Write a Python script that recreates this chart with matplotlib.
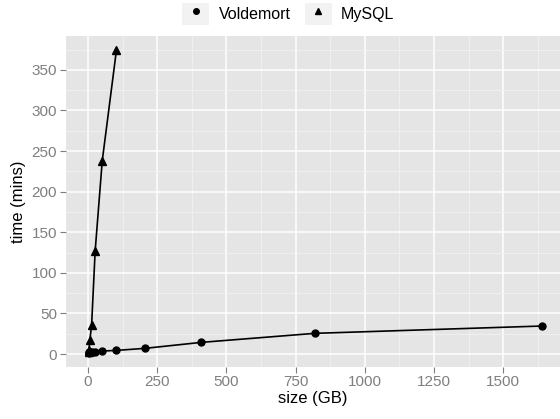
import matplotlib
matplotlib.use("Agg")
import matplotlib.pyplot as plt
from matplotlib.lines import Line2D
import matplotlib.patches as mpatches
from matplotlib.legend_handler import HandlerTuple
import numpy as np

plt.rcParams['font.family'] = ['Liberation Sans', 'DejaVu Sans']

# data
volde_size = [1.6, 3.2, 6.4, 12.8, 25.6, 51.2, 102.4, 204.8, 409.6, 819.2, 1638.4]
volde_time = [1.5, 2.0, 2.4, 2.8, 2.9, 3.7, 4.5, 7.0, 14.4, 25.5, 34.5]
mysql_size = [1.6, 3.2, 6.4, 12.8, 25.6, 51.2, 102.4]
mysql_time = [2.5, 5.5, 17.0, 36.0, 127.0, 238.0, 374.0]

grey_text = '#7f7f7f'

fig = plt.figure(figsize=(5.6, 4.19), dpi=100)
ax = fig.add_axes([0.117, 0.124, 0.883, 0.790])
ax.set_facecolor('#e5e5e5')

ax.plot(volde_size, volde_time, color='black', marker='o', markersize=5,
        linewidth=1.2, zorder=3)
ax.plot(mysql_size, mysql_time, color='black', marker='^', markersize=5.5,
        linewidth=1.2, zorder=3)

ax.set_xlim(-81.5, 1705)
ax.set_ylim(-16, 391.6)

ax.set_xticks(np.arange(0, 1501, 250))
ax.set_xticks(np.arange(125, 1705, 250), minor=True)
ax.set_yticks(np.arange(0, 351, 50))
ax.set_yticks(np.arange(25, 391, 50), minor=True)

ax.grid(True, which='major', color='white', linewidth=1.1, zorder=0)
ax.grid(True, which='minor', color='#f2f2f2', linewidth=0.6, zorder=0)
ax.set_axisbelow(True)
for s in ax.spines.values():
    s.set_visible(False)

ax.tick_params(which='major', length=4, width=0.8, color=grey_text,
               labelcolor=grey_text, labelsize=11, pad=2)
ax.tick_params(which='minor', length=0)

ax.set_xlabel('size (GB)', fontsize=12, labelpad=1)
ax.set_ylabel('time (mins)', fontsize=12, labelpad=4)

key_bg1 = mpatches.Rectangle((0, 0), 1, 1, facecolor='#f2f2f2', edgecolor='none')
key_bg2 = mpatches.Rectangle((0, 0), 1, 1, facecolor='#f2f2f2', edgecolor='none')
h1 = Line2D([], [], color='black', marker='o', linestyle='none', markersize=4)
h2 = Line2D([], [], color='black', marker='^', linestyle='none', markersize=4.5)
fig.legend(handles=[(key_bg1, h1), (key_bg2, h2)], labels=['Voldemort', 'MySQL'],
           handler_map={tuple: HandlerTuple(ndivide=1, pad=0)},
           loc='center', bbox_to_anchor=(0.515, 0.966), ncol=2, frameon=False,
           fontsize=11.5, handlelength=1.7, handleheight=1.7, handletextpad=0.6,
           columnspacing=0.85, borderpad=0)

plt.savefig("out.png", dpi=100)
